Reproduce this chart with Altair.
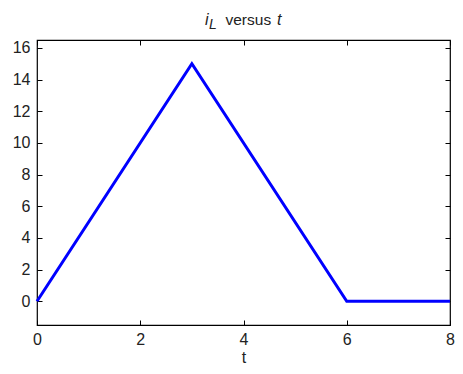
import altair as alt
import pandas as pd

# Data
t_vals = [0, 3, 6, 8]
iL_vals = [0, 15, 0, 0]
x_ticks = [0, 2, 4, 6, 8]
y_ticks = [0, 2, 4, 6, 8, 10, 12, 14, 16]
x_domain = [0, 8]
y_domain = [-1.5, 16.5]
x_title = "t"
title_parts = ["i", "L", "versus", "t"]

df = pd.DataFrame({"t": t_vals, "iL": iL_vals})

W, H = 413, 285
FONT = "Liberation Sans"
LABEL_COLOR = "#222222"

xs = alt.Scale(domain=x_domain, nice=False, zero=False)
ys = alt.Scale(domain=y_domain, nice=False, zero=False)

base = alt.Chart(df)

# Main line with labelled axes (no ticks; ticks drawn inward by offset axes)
main = base.mark_line(color="#0000ff", strokeWidth=3).encode(
    x=alt.X("t:Q", scale=xs, title=x_title,
            axis=alt.Axis(orient="bottom", values=x_ticks, ticks=False, domain=False,
                          grid=False, labelPadding=6, titlePadding=2,
                          labelFontSize=16, titleFontSize=16, labelFont=FONT, titleFont=FONT,
                          labelColor=LABEL_COLOR, titleColor=LABEL_COLOR, titleFontWeight="normal",
                          labelFlush=False)),
    y=alt.Y("iL:Q", scale=ys, title=None,
            axis=alt.Axis(orient="left", values=y_ticks, ticks=False, domain=False,
                          grid=False, labelPadding=7, labelFontSize=16, labelFont=FONT,
                          labelColor=LABEL_COLOR, labelFlush=False)),
)

# Inward ticks at bottom and left edges
ticks_a = base.mark_line(opacity=0).encode(
    x=alt.X("t:Q", scale=xs,
            axis=alt.Axis(orient="top", offset=-H, values=x_ticks, labels=False, domain=False,
                          grid=False, ticks=True, tickSize=5, tickColor="black", title=None)),
    y=alt.Y("iL:Q", scale=ys,
            axis=alt.Axis(orient="right", offset=-W, values=y_ticks, labels=False, domain=False,
                          grid=False, ticks=True, tickSize=5, tickColor="black", title=None)),
)

# Inward ticks at top and right edges
ticks_b = base.mark_line(opacity=0).encode(
    x=alt.X("t:Q", scale=xs,
            axis=alt.Axis(orient="bottom", offset=-H, values=x_ticks, labels=False, domain=False,
                          grid=False, ticks=True, tickSize=5, tickColor="black", title=None)),
    y=alt.Y("iL:Q", scale=ys,
            axis=alt.Axis(orient="left", offset=-W, values=y_ticks, labels=False, domain=False,
                          grid=False, ticks=True, tickSize=5, tickColor="black", title=None)),
)

one = pd.DataFrame({"k": [0]})
tbase = alt.Chart(one)
main_y = -15
t1 = tbase.mark_text(align="left", baseline="alphabetic", font=FONT, fontSize=16,
                     fontStyle="italic", color=LABEL_COLOR).encode(
    x=alt.value(168), y=alt.value(main_y), text=alt.value(title_parts[0]))
t2 = tbase.mark_text(align="left", baseline="alphabetic", font=FONT, fontSize=14,
                     fontStyle="italic", color=LABEL_COLOR).encode(
    x=alt.value(172), y=alt.value(main_y + 4), text=alt.value(title_parts[1]))
t3 = tbase.mark_text(align="left", baseline="alphabetic", font=FONT, fontSize=15.5,
                     color=LABEL_COLOR).encode(
    x=alt.value(188.5), y=alt.value(main_y), text=alt.value(title_parts[2]))
t4 = tbase.mark_text(align="left", baseline="alphabetic", font=FONT, fontSize=16,
                     fontStyle="italic", color=LABEL_COLOR).encode(
    x=alt.value(240), y=alt.value(main_y), text=alt.value(title_parts[3]))

chart = alt.layer(main, ticks_a, ticks_b, t1, t2, t3, t4).resolve_axis(
    x="independent", y="independent"
).properties(
    width=W, height=H, autosize="none",
    padding={"left": 29, "top": 32, "right": 5, "bottom": 40},
    background="white",
).configure_view(stroke="black", strokeWidth=1.2)

chart.save("out.html", embed_options={"renderer": "svg", "actions": False})
